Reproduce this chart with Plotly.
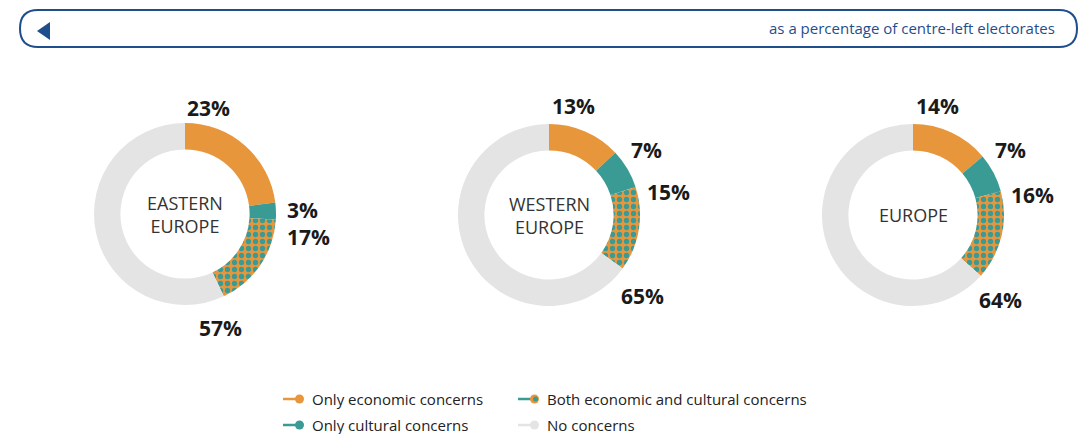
import plotly.graph_objects as go

W, H = 1086, 434

regions = ["EASTERN<br>EUROPE", "WESTERN<br>EUROPE", "EUROPE"]
categories = ["Only economic concerns", "Only cultural concerns",
              "Both economic and cultural concerns", "No concerns"]
eastern = [23, 3, 17, 57]
western = [13, 7, 15, 65]
europe = [14, 7, 16, 64]
series = [eastern, western, europe]
subtitle = "as a percentage of centre-left electorates"

ORANGE = "#E8963C"
TEAL = "#3A9A94"
GREY = "#E4E4E4"
BLUE = "#1F4E8C"
FONT = "Open Sans"


def px(x):
    return x / W


def py(y):
    return 1 - y / H


centers = [(185, 214), (549, 215), (913, 215)]
R = 91

# label groups per donut: (slice indices, x, y, xanchor)  -- layout only
label_groups = [
    [([0], 208, 108, "center"), ([1, 2], 285, 223, "left"), ([3], 220, 328, "center")],
    [([0], 573, 106, "center"), ([1], 646, 150, "center"), ([2], 668, 192, "center"),
     ([3], 642, 296, "center")],
    [([0], 937, 106, "center"), ([1], 1010, 150, "center"), ([2], 1032, 195, "center"),
     ([3], 1000, 300, "center")],
]

fig = go.Figure()
annotations = []
for i, vals in enumerate(series):
    cx, cy = centers[i]
    fig.add_trace(go.Pie(
        values=vals,
        labels=categories,
        sort=False,
        direction="clockwise",
        rotation=0,
        hole=0.71,
        textinfo="none",
        hoverinfo="label+value",
        showlegend=False,
        marker=dict(
            colors=[ORANGE, TEAL, ORANGE, GREY],
            line=dict(width=0),
            pattern=dict(
                shape=["", "", ".", ""],
                fgcolor=[ORANGE, TEAL, TEAL, GREY],
                bgcolor=[ORANGE, TEAL, ORANGE, GREY],
                size=7,
                solidity=0.45,
                fillmode="replace",
            ),
        ),
        domain=dict(x=[px(cx - R), px(cx + R)], y=[py(cy + R), py(cy - R)]),
    ))
    annotations.append(dict(
        x=px(cx), y=py(cy), xref="paper", yref="paper", text=regions[i],
        showarrow=False, xanchor="center", yanchor="middle",
        font=dict(family=FONT, size=18, color="#333333"),
    ))
    for idxs, lx, ly, anchor in label_groups[i]:
        txt = "<br>".join(f"{vals[k]}%" for k in idxs)
        annotations.append(dict(
            x=px(lx), y=py(ly), xref="paper", yref="paper", text=f"<b>{txt}</b>",
            showarrow=False, xanchor=anchor, yanchor="middle", align="left",
            font=dict(family=FONT, size=21, color="#1a1a1a"),
        ))

# header
annotations.append(dict(
    x=px(1057), y=py(28), xref="paper", yref="paper", text=subtitle,
    showarrow=False, xanchor="right", yanchor="middle",
    font=dict(family=FONT, size=15, color=BLUE),
))

shapes = []
x0, x1, y0, y1, r = 20, 1077, 10, 47, 18
path = (f"M {px(x0 + r)},{py(y0)} L {px(x1 - r)},{py(y0)} "
        f"Q {px(x1)},{py(y0)} {px(x1)},{py((y0 + y1) / 2)} "
        f"Q {px(x1)},{py(y1)} {px(x1 - r)},{py(y1)} "
        f"L {px(x0 + r)},{py(y1)} "
        f"Q {px(x0)},{py(y1)} {px(x0)},{py((y0 + y1) / 2)} "
        f"Q {px(x0)},{py(y0)} {px(x0 + r)},{py(y0)} Z")
shapes.append(dict(type="path", xref="paper", yref="paper", path=path,
                   line=dict(color=BLUE, width=2), fillcolor="rgba(0,0,0,0)"))
tri = f"M {px(37)},{py(31)} L {px(50)},{py(22)} L {px(50)},{py(40)} Z"
shapes.append(dict(type="path", xref="paper", yref="paper", path=tri,
                   line=dict(color=BLUE, width=0), fillcolor=BLUE))

# legend
legend_items = [
    (categories[0], 283, 399, ORANGE, ORANGE, ORANGE),
    (categories[2], 518, 399, TEAL, ORANGE, TEAL),
    (categories[1], 283, 425, TEAL, TEAL, TEAL),
    (categories[3], 518, 425, GREY, GREY, GREY),
]
for name, lx, ly, lc, dc1, dc2 in legend_items:
    shapes.append(dict(type="line", xref="paper", yref="paper",
                       x0=px(lx), x1=px(lx + 14), y0=py(ly), y1=py(ly),
                       line=dict(color=lc, width=2.5)))
    shapes.append(dict(type="circle", xref="paper", yref="paper",
                       x0=px(lx + 12), x1=px(lx + 21), y0=py(ly + 4.5), y1=py(ly - 4.5),
                       line=dict(width=0), fillcolor=dc1))
    if dc2 != dc1:
        shapes.append(dict(type="circle", xref="paper", yref="paper",
                           x0=px(lx + 15), x1=px(lx + 20), y0=py(ly + 2.5), y1=py(ly - 2.5),
                           line=dict(width=0), fillcolor=dc2))
    annotations.append(dict(
        x=px(lx + 27), y=py(ly), xref="paper", yref="paper", text=name,
        showarrow=False, xanchor="left", yanchor="middle",
        font=dict(family=FONT, size=15, color="#222222"),
    ))

fig.update_layout(
    width=W, height=H,
    margin=dict(l=0, r=0, t=0, b=0),
    paper_bgcolor="white", plot_bgcolor="white",
    annotations=annotations, shapes=shapes,
    showlegend=False,
)

fig.write_html(
    "out.html",
    config={"displayModeBar": False},
    post_script="document.body.style.margin='0';document.body.style.padding='0';"
                "document.documentElement.style.overflow='hidden';",
)
